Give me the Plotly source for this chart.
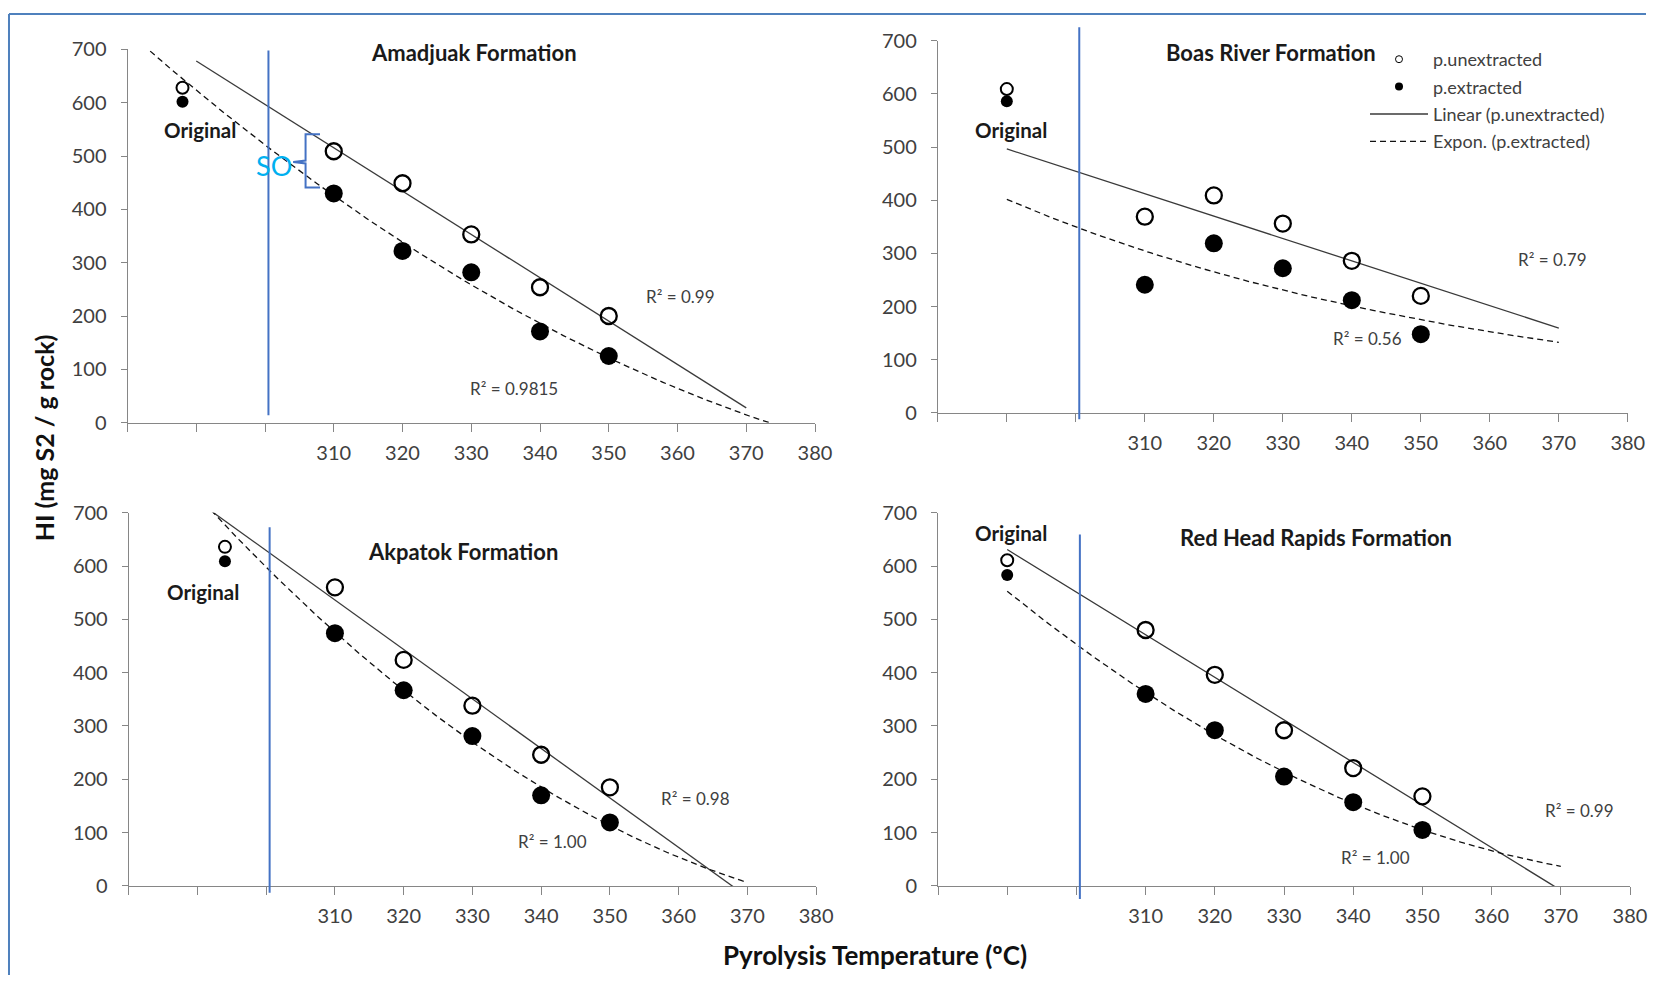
import numpy as np
import plotly.graph_objects as go

# ---------------- data ----------------
panel_titles = ["Amadjuak Formation", "Boas River Formation",
                "Akpatok Formation", "Red Head Rapids Formation"]
temps = [310, 320, 330, 340, 350]
original_x = [288, 290, 294, 290]
original_unextracted = [628, 609, 636, 611]
original_extracted = [602, 586, 609, 583]
amadjuak_unextracted = [509, 449, 353, 254, 200]
amadjuak_extracted = [430, 322, 282, 171, 125]
boas_unextracted = [369, 409, 356, 286, 220]
boas_extracted = [241, 319, 272, 212, 148]
akpatok_unextracted = [560, 424, 338, 246, 185]
akpatok_extracted = [474, 367, 281, 170, 119]
redhead_unextracted = [480, 396, 292, 221, 168]
redhead_extracted = [360, 292, 205, 157, 105]
unextracted = [amadjuak_unextracted, boas_unextracted, akpatok_unextracted, redhead_unextracted]
extracted = [amadjuak_extracted, boas_extracted, akpatok_extracted, redhead_extracted]
extracted_fit_type = ["poly2", "exp", "poly2", "poly2"]
linear_fit_range = [[290, 370], [290, 370], [290, 370], [290, 370]]
curve_fit_range = [[280, 380], [290, 370], [290, 370], [290, 370]]
r2_linear_text = ["R² = 0.99", "R² = 0.79", "R² = 0.98", "R² = 0.99"]
r2_curve_text = ["R² = 0.9815", "R² = 0.56", "R² = 1.00", "R² = 1.00"]
x_tick_vals = [280, 290, 300, 310, 320, 330, 340, 350, 360, 370, 380]
x_tick_text = ["", "", "", "310", "320", "330", "340", "350", "360", "370", "380"]
y_tick_vals = [0, 100, 200, 300, 400, 500, 600, 700]
divider_x = 300.5
so_label = "SO"

# ---------------- layout geometry ----------------
W, H = 1663, 986
# positions below are given in picture pixels; convert to page/paper fractions
CAP_SX, CAP_SY, CAP_DY = 0.9905, 0.976, 12.9


def px(x):
    return (x / CAP_SX) / W


def py(y):
    return 1 - (y / CAP_SY - CAP_DY) / H


# plot areas: (left, right, top, bottom) in picture pixels
areas = [(127.6, 815.6, 49.0, 422.4),
         (938.5, 1629.0, 40.3, 412.6),
         (128.8, 816.7, 512.5, 885.8),
         (938.7, 1631.2, 512.5, 885.8)]
title_pos = [(474, 51.7), (1272, 51.7), (463, 551.7), (1316.6, 537.3)]
orig_label_pos = [(199.7, 130), (1012, 130), (202.9, 591.7), (1012, 532.7)]
r2_lin_pos = [(680.5, 296), (1553.8, 259.3), (695.7, 798.3), (1580.2, 810)]
r2_cur_pos = [(514.4, 388), (1368.8, 338.3), (552.8, 841), (1376.1, 857.7)]
divider_dom = [(0.02, 0.997), (-0.017, 1.036), (-0.0185, 0.961), (-0.035, 0.942)]

FONT = "Lato, 'Open Sans', 'DejaVu Sans', sans-serif"
TXT = "#404040"
AXC = "#868686"

fig = go.Figure()
layout = dict(width=W, height=H, margin=dict(l=0, r=0, t=0, b=0),
              paper_bgcolor="white", plot_bgcolor="white",
              font=dict(family=FONT, color=TXT), showlegend=True)

annotations = []
shapes = []


def note(text, x, y, size, color, **kw):
    d = dict(text=text, x=px(x), y=py(y), xref="paper", yref="paper", showarrow=False,
             xanchor="center", yanchor="middle",
             font=dict(size=size, color=color, family=FONT))
    d.update(kw)
    annotations.append(d)


for i in range(4):
    xa = "x" if i == 0 else f"x{i+1}"
    ya = "y" if i == 0 else f"y{i+1}"
    l, r, t, b = areas[i]
    axkey = "xaxis" if i == 0 else f"xaxis{i+1}"
    aykey = "yaxis" if i == 0 else f"yaxis{i+1}"
    layout[axkey] = dict(domain=[px(l), px(r)], range=[280, 380], anchor=ya,
                         tickmode="array", tickvals=x_tick_vals, ticktext=x_tick_text,
                         ticks="outside", ticklen=8, tickcolor=AXC, tickwidth=1,
                         ticklabelstandoff=4,
                         showline=True, linecolor=AXC, linewidth=1, showgrid=False,
                         zeroline=False, tickfont=dict(size=20, color=TXT, family=FONT))
    layout[aykey] = dict(domain=[py(b), py(t)], range=[0, 700], anchor=xa,
                         tickmode="array", tickvals=y_tick_vals,
                         ticks="outside", ticklen=6, tickcolor=AXC, tickwidth=1,
                         ticklabelstandoff=10,
                         showline=True, linecolor=AXC, linewidth=1, showgrid=False,
                         zeroline=False, tickfont=dict(size=20, color=TXT, family=FONT))

    ux = np.array(temps, dtype=float)
    uy = np.array(unextracted[i], dtype=float)
    ey = np.array(extracted[i], dtype=float)

    # linear trend for unextracted
    c1 = np.polyfit(ux, uy, 1)
    lx = np.linspace(linear_fit_range[i][0], linear_fit_range[i][1], 100)
    fig.add_trace(go.Scatter(x=lx, y=np.polyval(c1, lx), mode="lines",
                             line=dict(color="#3a3a3a", width=1.3),
                             name="Linear (p.unextracted)", xaxis=xa, yaxis=ya,
                             showlegend=(i == 1), legendrank=3, legendgroup="c",
                             hoverinfo="skip"))
    # curve trend for extracted
    cx = np.linspace(curve_fit_range[i][0], curve_fit_range[i][1], 200)
    if extracted_fit_type[i] == "exp":
        ce = np.polyfit(ux, np.log(ey), 1)
        cy = np.exp(np.polyval(ce, cx))
    else:
        ce = np.polyfit(ux, ey, 2)
        cy = np.polyval(ce, cx)
    fig.add_trace(go.Scatter(x=cx, y=cy, mode="lines",
                             line=dict(color="#111111", width=1.3, dash="6px,4px"),
                             name="Expon. (p.extracted)", xaxis=xa, yaxis=ya,
                             showlegend=(i == 1), legendrank=4, legendgroup="d",
                             hoverinfo="skip"))
    # points
    fig.add_trace(go.Scatter(x=temps, y=unextracted[i], mode="markers",
                             marker=dict(symbol="circle-open", size=16, color="black",
                                         line=dict(width=2.3, color="black")),
                             name="p.unextracted", xaxis=xa, yaxis=ya, showlegend=False))
    fig.add_trace(go.Scatter(x=temps, y=extracted[i], mode="markers",
                             marker=dict(symbol="circle", size=18, color="black"),
                             name="p.extracted", xaxis=xa, yaxis=ya, showlegend=False))
    # original sample
    fig.add_trace(go.Scatter(x=[original_x[i]], y=[original_unextracted[i]], mode="markers",
                             marker=dict(symbol="circle-open", size=12, color="black",
                                         line=dict(width=2, color="black")),
                             name="original unextracted", xaxis=xa, yaxis=ya, showlegend=False))
    fig.add_trace(go.Scatter(x=[original_x[i]], y=[original_extracted[i]], mode="markers",
                             marker=dict(symbol="circle", size=12, color="black"),
                             name="original extracted", xaxis=xa, yaxis=ya, showlegend=False))

    # vertical divider
    shapes.append(dict(type="line", xref=xa, yref=f"{ya} domain",
                       x0=divider_x, x1=divider_x, y0=divider_dom[i][0], y1=divider_dom[i][1],
                       line=dict(color="#4472C4", width=2)))

    note(f"<b>{panel_titles[i]}</b>", *title_pos[i], 22, "#1a1a1a")
    note("<b>Original</b>", *orig_label_pos[i], 20.5, "#1a1a1a")
    note(r2_linear_text[i], *r2_lin_pos[i], 17, TXT)
    note(r2_curve_text[i], *r2_cur_pos[i], 17, TXT)

# legend-only marker entries (small symbols as in the original legend)
fig.add_trace(go.Scatter(x=[None], y=[None], mode="markers", xaxis="x2", yaxis="y2",
                         marker=dict(symbol="circle-open", size=7, color="black", line=dict(width=1)),
                         name="p.unextracted", legendrank=1, legendgroup="a"))
fig.add_trace(go.Scatter(x=[None], y=[None], mode="markers", xaxis="x2", yaxis="y2",
                         marker=dict(symbol="circle", size=8, color="black"),
                         name="p.extracted", legendrank=2, legendgroup="b"))

# SO bracket in the Amadjuak panel
shapes.append(dict(type="path", xref="x", yref="y",
                   path="M 308.0,540.7 L 305.9,540.7 L 305.9,491.5 L 304.1,488.8 "
                        "L 305.9,486.1 L 305.9,440.8 L 308.0,440.8",
                   line=dict(color="#4472C4", width=2)))
note(so_label, 274.4, 165, 27, "#00B0F0")

# axis titles
note("<b>HI (mg S2 / g rock)</b>", 44, 437, 25, "#111111", textangle=-90)
note("<b>Pyrolysis Temperature (ºC)</b>", 876, 955, 26, "#111111")

# outer frame (top and left edges visible)
shapes.append(dict(type="line", xref="paper", yref="paper", x0=px(9), x1=1.0,
                   y0=min(py(11), 0.999), y1=min(py(11), 0.999),
                   line=dict(color="#4F81BD", width=2)))
shapes.append(dict(type="line", xref="paper", yref="paper", x0=px(9), x1=px(9),
                   y0=min(py(11), 0.999), y1=0,
                   line=dict(color="#4F81BD", width=2)))

layout["annotations"] = annotations
layout["shapes"] = shapes
layout["legend"] = dict(x=px(1366), y=py(40.6), xanchor="left", yanchor="top",
                        font=dict(size=18, color=TXT, family=FONT),
                        bgcolor="rgba(0,0,0,0)", tracegroupgap=1, itemwidth=58,
                        traceorder="grouped")
fig.update_layout(**layout)

fig.write_html("out.html", config={"displayModeBar": False},
               post_script="document.body.style.margin='0';")
